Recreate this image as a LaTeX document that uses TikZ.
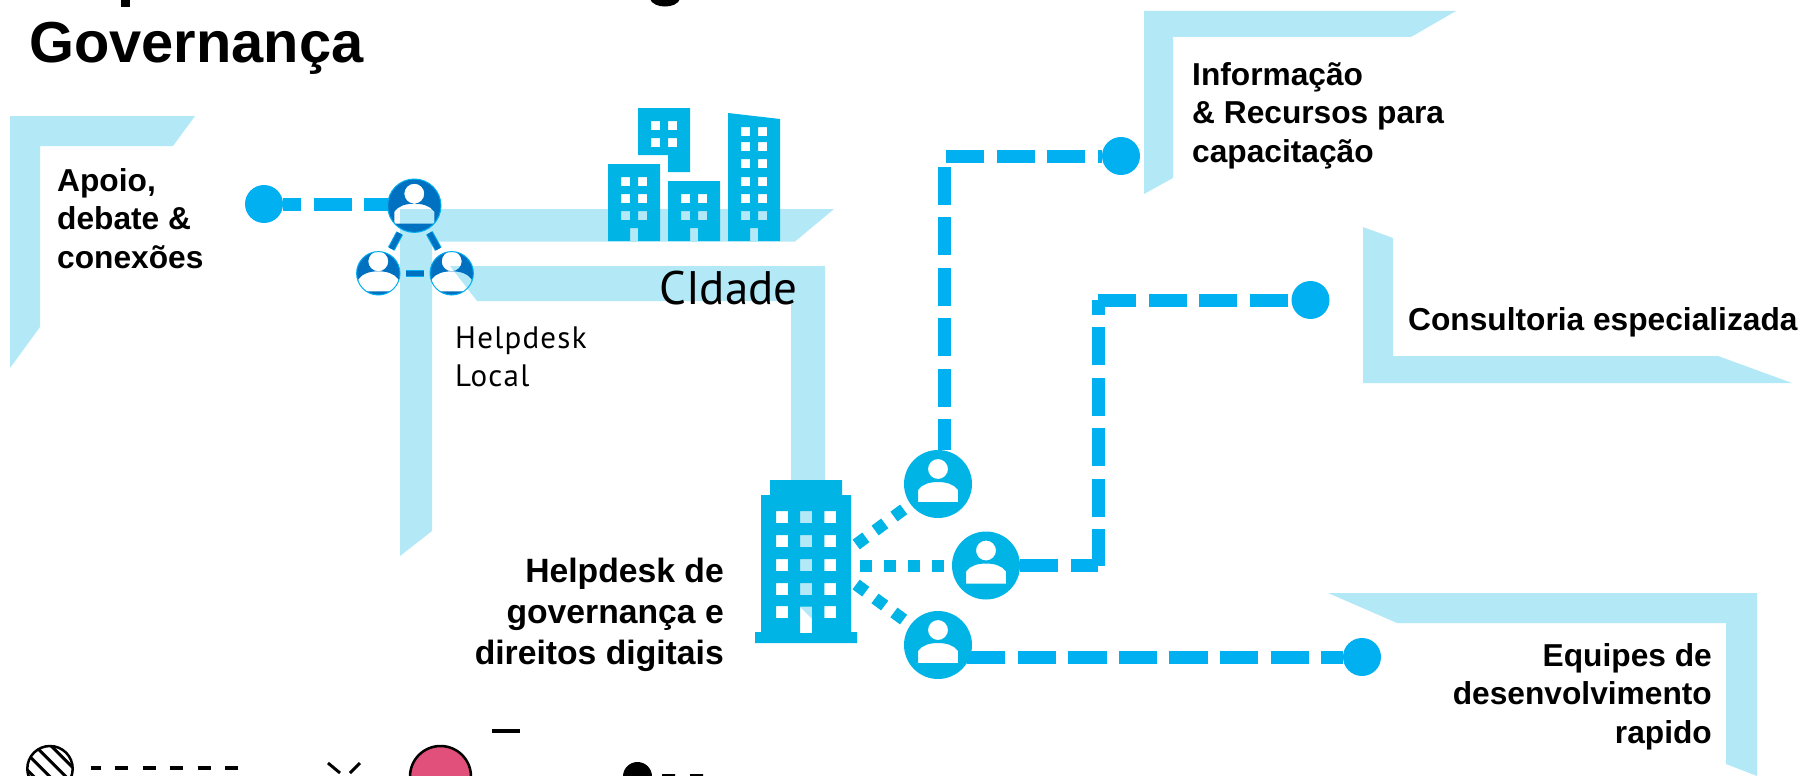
\documentclass[tikz,border=0pt]{standalone}
\usepackage{fontspec}
\setmainfont{Liberation Sans}
\newfontfamily\dinfont{PT Sans}
\newfontfamily\localfont[LetterSpace=4]{PT Sans}
\usetikzlibrary{backgrounds}

\definecolor{bracketblue}{HTML}{B3E8F7}
\definecolor{linkblue}{HTML}{00B0F0}
\definecolor{iconblue}{HTML}{00B4E5}
\definecolor{darkblue}{HTML}{0070C0}
\definecolor{junkpink}{HTML}{E0507A}

\tikzset{
  bracket/.style={fill=bracketblue},
  building/.style={fill=iconblue,even odd rule},
  dash link/.style={draw=linkblue,line width=13pt,dash pattern=on 38pt off 12.5pt},
  dot link/.style={draw=iconblue,line width=12pt,dash pattern=on 12pt off 11.5pt},
  team link/.style={draw=linkblue,double=darkblue,double distance=5.5pt,line width=1pt},
  end node/.style={circle,fill=linkblue,inner sep=0pt,outer sep=0pt,minimum size=38pt},
  person node/.style n args={3}{circle,inner sep=0pt,outer sep=0pt,minimum size=#1*2pt,
    path picture={
      \begin{scope}[shift={(path picture bounding box.center)},scale=#1/34]
        \fill[#2,even odd rule] (-40,-40) rectangle (40,40)
          (0,#3) circle [radius=10]
          (-20,18) -- (-20,6) .. controls (-16,0) and (-8,-2) .. (0,-2)
          .. controls (8,-2) and (16,0) .. (20,6) -- (20,18) -- cycle;
      \end{scope}}},
  bold text/.style={inner sep=0pt,font=\bfseries\fontsize{31.7}{38.3}\selectfont},
  thin text/.style={inner sep=0pt,font=\localfont\fontsize{31}{38}\selectfont}
}

\begin{document}
\begin{tikzpicture}[x=1pt,y=-1pt]
  \useasboundingbox (0,0) rectangle (1808,776);

  \begin{scope}[on background layer]
    \fill[bracket] (10,116) -- (195,116) -- (173,146) -- (40,146) -- (40,327) -- (10,368) -- cycle;
    \fill[bracket] (400,209) -- (834,209) -- (795,241.5) -- (432,241.5) -- (432,531) -- (400,556) -- cycle;
    \fill[bracket] (450,266) -- (825,266) -- (825,632) -- (791,598) -- (791,301) -- (477,301) -- cycle;
    \fill[bracket] (1144,11) -- (1456,11) -- (1411,37) -- (1173,37) -- (1173,178) -- (1144,194) -- cycle;
    \fill[bracket] (1363,227) -- (1393,238) -- (1393,356) -- (1718,356) -- (1792,383) -- (1363,383) -- cycle;
    \fill[bracket] (1328,593) -- (1757,593) -- (1757,776) -- (1726,764) -- (1726,623) -- (1397,623) -- cycle;
  \end{scope}

  % buildings
  \fill[building] (608,164) rectangle (660,241) (630,228) rectangle (638,241)
    \foreach \wx in {621,638} {\foreach \wy in {177,194,211} {(\wx,\wy) rectangle ++(9,9)}};
  \fill[building] (638,108) -- (690,108) -- (690,172) -- (668,172) -- (668,155) -- (638,155) -- cycle
    \foreach \wx in {651,668} {\foreach \wy in {121,138} {(\wx,\wy) rectangle ++(9,9)}};
  \fill[building] (668,181) rectangle (720,241) (690,228) rectangle (698,241)
    \foreach \wx in {681,698} {\foreach \wy in {194,211} {(\wx,\wy) rectangle ++(9,9)}};
  \fill[building] (728,113) -- (780,119) -- (780,241) -- (728,241) -- cycle (750,228) rectangle (758,241)
    \foreach \wx in {741,758} {\foreach \wy in {127,142,159,177,194,211} {(\wx,\wy) rectangle ++(9,9)}};
  \fill[building] (770,480) -- (842,480) -- (842,495) -- (851,495) -- (851,632) -- (857,632) -- (857,643)
    -- (755,643) -- (755,632) -- (761,632) -- (761,495) -- (770,495) -- cycle
    (800,606.5) rectangle (812,633)
    \foreach \wy in {511,535,559,583} {(800,\wy) rectangle ++(12,12)}
    \foreach \wx in {776,824} {\foreach \wy in {511,535,559,583,606} {(\wx,\wy) rectangle ++(12,12)}};

  % end points and people
  \node[end node] (dotA) at (264,204) {};
  \node[end node] (dotB) at (1121,156) {};
  \node[end node] (dotC) at (1310.5,300) {};
  \node[end node] (dotD) at (1362,657) {};

  \node[person node={26.7}{darkblue}{-12},draw=linkblue,line width=1pt] (teamA) at (414.3,205.7) {};
  \node[person node={21.7}{darkblue}{-12},draw=linkblue,line width=1pt] (teamB) at (378.3,273.3) {};
  \node[person node={21.7}{darkblue}{-12},draw=linkblue,line width=1pt] (teamC) at (451.7,273.3) {};

  \node[person node={34}{iconblue}{-15}] (personA) at (938,484) {};
  \node[person node={34}{iconblue}{-15}] (personB) at (986,565.5) {};
  \node[person node={34}{iconblue}{-15}] (personC) at (938,645) {};

  \coordinate (deskA) at (856.2,544.5);
  \coordinate (deskB) at (860,565.5);
  \coordinate (deskC) at (856.1,584.5);
  \coordinate (bendB) at (1098,565.5);
  \coordinate (bendC) at (1098,300);

  % connectors
  \begin{scope}[on background layer]
    \draw[dash link,dash phase=20pt] (dotA) -- (teamA.west |- dotA);
    \draw[team link,shorten <=4.5pt,shorten >=6pt] (teamA) -- (teamB);
    \draw[team link,shorten <=4.5pt,shorten >=6pt] (teamA) -- (teamC);
    \draw[team link,shorten <=6pt,shorten >=6pt] (teamB) -- (teamC);

    \draw[dash link,dash phase=7pt] ([xshift=6pt]personA.north) |- (dotB);
    \draw[dash link] (personB) -- (bendB);
    \draw[dash link,dash phase=1.5pt] (bendB) -- (bendC);
    \draw[dash link] (bendC) -- (dotC);
    \draw[dash link,dash pattern=on 38.4pt off 12.2pt] ([xshift=-5pt]personC.east |- dotD) -- (dotD);

    \draw[dot link] (deskA) -- (personA);
    \draw[dot link,dash pattern=on 12pt off 12pt] (deskB) -- (personB);
    \draw[dot link] (deskC) -- (personC);
  \end{scope}

  % texts
  \node[inner sep=0pt,anchor=base west,font=\bfseries\fontsize{57.8}{60}\selectfont] (title) at (29,63) {Governança};
  \node[bold text,anchor=base west,align=left] (apoio) at (57,268) {Apoio,\\debate \&\\conexões};
  \node[bold text,anchor=base west,align=left] (info) at (1192,162) {Informação\\\& Recursos para\\capacitação};
  \node[bold text,anchor=base west] (consult) at (1408,330) {Consultoria especializada};
  \node[bold text,anchor=base east,align=right] (equipes) at (1712,743) {Equipes de\\desenvolvimento\\rapido};
  \node[bold text,anchor=base east,align=right,font=\bfseries\fontsize{33.7}{41}\selectfont] (desk) at (724,664)
    {Helpdesk de\\governança e\\direitos digitais};
  \node[inner sep=0pt,anchor=base west,font=\dinfont\fontsize{47}{50}\selectfont] (cidade) at (659,304) {CIdade};
  \node[thin text,anchor=base west,align=left] (local) at (455,386) {Helpdesk\\Local};

  % what is left of the cut title line
  \fill (121,0) rectangle (130,7);
  \draw[line width=7pt] (653,-3) .. controls (655,5) and (675,5) .. (677,-3);

  % what is left of the row at the bottom edge
  \begin{scope}
    \clip (50,768.7) circle [radius=22.7];
    \foreach \hx in {-24,-8,8,24}
      \draw[line width=3pt] (50+\hx-30,768.7-30) -- ++(60,60);
  \end{scope}
  \draw[line width=2.5pt] (50,768.7) circle [radius=22.7];
  \draw[line width=4pt,dash pattern=on 13pt off 14.4pt,dash phase=3pt] (91,768.3) -- (238,768.3);
  \draw[line width=3pt] (328,763) -- (340,773) (360,763) -- (350,773);
  \draw[fill=junkpink,line width=2.5pt] (440.5,776.5) circle [radius=30.5];
  \draw[line width=3.5pt] (492,731) -- (520,731);
  \fill (637.5,776.5) circle [radius=14.5];
  \fill (662,774) rectangle (675,776) (690,774) rectangle (703,776);
\end{tikzpicture}
\end{document}
